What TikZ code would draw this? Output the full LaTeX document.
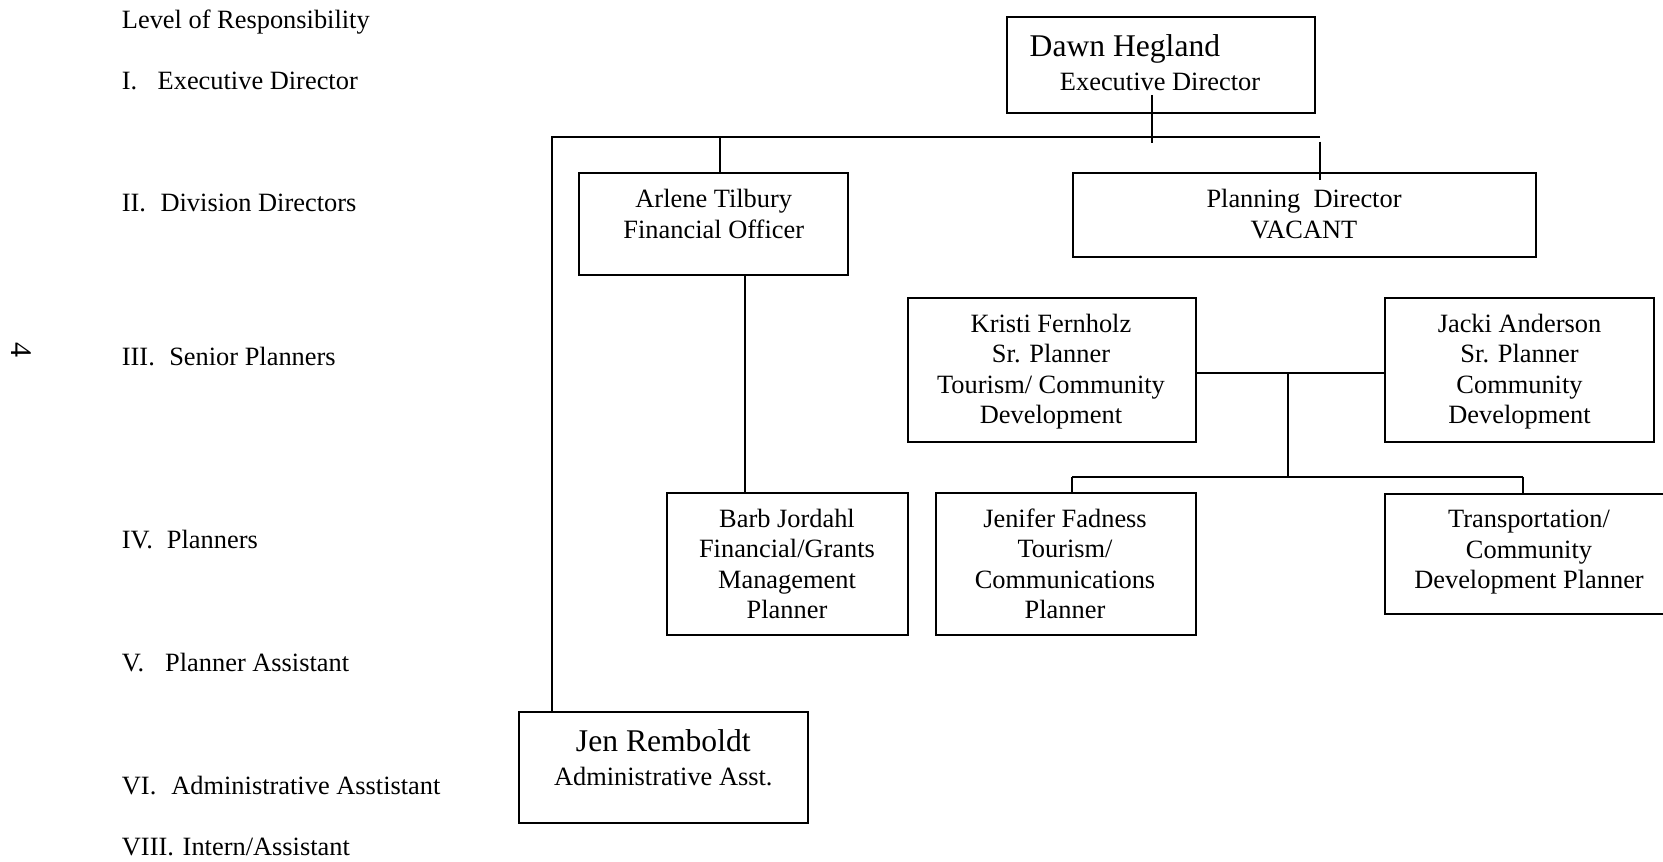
\documentclass[tikz,border=0pt]{standalone}
\usepackage{fontspec}
\setmainfont{Liberation Serif}
\begin{document}
\begin{tikzpicture}[x=0.5pt,y=-0.5pt,
  box/.style={draw, line width=1pt, inner sep=0pt},
  sz/.style 2 args={minimum width=#1*0.5pt, minimum height=#2*0.5pt},
  conn/.style={line width=1pt},
  txt/.style={font=\fontsize{13.2}{15.25}\selectfont, align=center, inner sep=0pt},
  big/.style={font=\fontsize{15.8}{18}\selectfont, inner sep=0pt},
  lvl/.style={font=\fontsize{13.2}{15.25}\selectfont, inner sep=0pt, anchor=base west}]
\useasboundingbox (0,0) rectangle (1663,861);

% level labels
\node[lvl] (l0) at (121.5,28.3) {Level of Responsibility};
\node[lvl] (l1) at (121.5,89.3) {I.\hspace{10.2pt}Executive Director};
\node[lvl] (l2) at (121.5,211.7) {II.\hspace{7.25pt}Division Directors};
\node[lvl] (l3) at (121.5,365) {III.\hspace{7.2pt}Senior Planners};
\node[lvl] (l4) at (121.5,548.3) {IV.\hspace{7pt}Planners};
\node[lvl] (l5) at (121.5,671.7) {V.\hspace{10.5pt}Planner Assistant};
\node[lvl] (l6) at (121.5,794.3) {VI.\hspace{7.5pt}Administrative Asstistant};
\node[lvl] (l7) at (121.5,855) {VIII.\hspace{4.4pt}Intern/Assistant};
\node[font=\fontsize{15}{18}\selectfont, rotate=-90, inner sep=0pt] (pg) at (21,350) {4};

% boxes
\node[box, sz={307.7}{96}]   (dawn)      at (1161.15,65.3) {};
\node[box, sz={268.9}{101.7}] (arlene)   at (713.75,224.15) {};
\node[box, sz={463.4}{83.4}]  (planning) at (1304.3,215) {};
\node[box, sz={288.1}{144}]   (kristi)   at (1051.55,370.3) {};
\node[box, sz={268.7}{144}]   (jacki)    at (1519.65,370.3) {};
\node[box, sz={241}{141.7}]   (barb)     at (787.2,564.15) {};
\node[box, sz={259.7}{141.7}] (jenifer)  at (1065.75,564.15) {};
\node[box, sz={287.7}{120}]   (transport) at (1529.15,554) {};
\node[box, sz={288.7}{111.6}] (jen)      at (663.35,767.5) {};

% box texts
\node[big, anchor=west] (tdawn1) at (1029.3,49.4) {\strut Dawn Hegland};
\node[txt] (tdawn2) at (1160,84) {\strut Executive Director};
\node[txt] (tarlene) at (713.75,217) {\strut Arlene Tilbury\\Financial Officer\strut};
\node[txt] (tplanning) at (1304,217) {\strut Planning\ \ Director\\VACANT\strut};
\node[txt] (tkristi) at (1051,372) {\strut Kristi Fernholz\\Sr. Planner\\Tourism/ Community\\Development\strut};
\node[txt] (tjacki) at (1519.5,372) {\strut Jacki Anderson\\Sr. Planner\\Community\\Development\strut};
\node[txt] (tbarb) at (787,567) {\strut Barb Jordahl\\Financial/Grants\\Management\\Planner\strut};
\node[txt] (tjenifer) at (1065,567) {\strut Jenifer Fadness\\Tourism/\\Communications\\Planner\strut};
\node[txt] (ttransport) at (1529,552) {\strut Transportation/\\Community\\Development Planner\strut};
\node[big] (tjen1) at (663.3,744.4) {\strut Jen Remboldt};
\node[txt] (tjen2) at (663.3,779) {\strut Administrative Asst.};

% connector coordinates
\coordinate (tL) at (551.5,136.7);
\coordinate (tR) at (1320,136.7);
\coordinate (d1) at (1151.7,95);
\coordinate (d2) at (1151.7,143.3);
\coordinate (a1) at (720,136.7);
\coordinate (p1) at (1320,141.7);
\coordinate (p2) at (1320,180);
\coordinate (b1) at (744.5,0);
\coordinate (m) at (1287.5,372.7);
\coordinate (n) at (1287.5,476.7);
\coordinate (nl) at (1072.3,476.7);
\coordinate (nr) at (1522.7,476.7);

% connectors
\draw[conn] (d1) -- (d2);
\draw[conn] (tR) -- (tL) -- (tL |- jen.north);
\draw[conn] (a1) -- (a1 |- arlene.north);
\draw[conn] (p1) -- (p2);
\draw[conn] (arlene.south -| b1) -- (barb.north -| b1);
\draw[conn] (kristi.east |- m) -- (jacki.west |- m);
\draw[conn] (m) -- (n);
\draw[conn] (nl) -- (nr);
\draw[conn] (nl) -- (nl |- jenifer.north);
\draw[conn] (nr) -- (nr |- transport.north);
\end{tikzpicture}
\end{document}
